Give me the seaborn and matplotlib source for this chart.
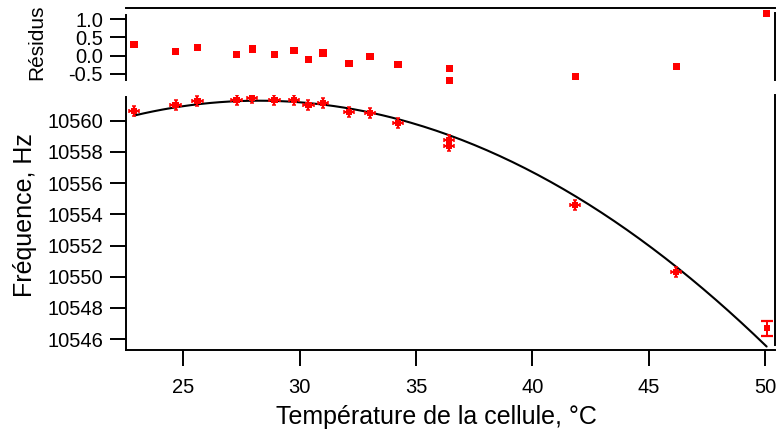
import numpy as np
import pandas as pd
import matplotlib
matplotlib.use('Agg')
import matplotlib.pyplot as plt
import seaborn as sns

sns.set_theme(style='ticks')
plt.rcParams['font.family'] = ['Liberation Sans', 'DejaVu Sans']
plt.rcParams['axes.unicode_minus'] = False
plt.rcParams['text.color'] = 'black'
plt.rcParams['axes.labelcolor'] = 'black'

# data
temp = [22.89, 24.67, 25.61, 27.29, 27.97, 28.92, 29.76, 30.38, 31.00,
        32.13, 33.02, 34.23, 36.43, 36.43, 41.85, 46.19, 50.07]
freq = [10560.64, 10561.00, 10561.26, 10561.31, 10561.46, 10561.31, 10561.35,
        10561.00, 10561.15, 10560.56, 10560.51, 10559.83, 10558.74, 10558.41,
        10554.60, 10550.32, 10546.69]
resid = [0.31, 0.12, 0.23, 0.04, 0.18, 0.04, 0.15, -0.10, 0.07, -0.21,
         -0.02, -0.24, -0.35, -0.68, -0.57, -0.29, 1.16]
temp_err = [0.22, 0.22, 0.22, 0.22, 0.22, 0.22, 0.22, 0.22, 0.22,
            0.22, 0.22, 0.22, 0.22, 0.22, 0.22, 0.22, 0.0]
freq_err = [0.32, 0.32, 0.32, 0.32, 0.32, 0.32, 0.32, 0.32, 0.32,
            0.32, 0.32, 0.32, 0.32, 0.32, 0.32, 0.32, 0.50]

res_ticks = [-0.5, 0.0, 0.5, 1.0]
res_ticklabels = ['-0.5', '0.0', '0.5', '1.0']
freq_ticks = [10546, 10548, 10550, 10552, 10554, 10556, 10558, 10560]
temp_ticks = [25, 30, 35, 40, 45, 50]

df = pd.DataFrame({'temp': temp, 'freq': freq, 'resid': resid,
                   'temp_err': temp_err, 'freq_err': freq_err})

# quadratic fit curve (fit = data - residual)
coef = np.polyfit(df['temp'], df['freq'] - df['resid'], 2)
tt = np.linspace(df['temp'].min(), df['temp'].max(), 200)
fit_df = pd.DataFrame({'temp': tt, 'freq': np.polyval(coef, tt)})

red = '#ff0000'
lw = 1.4
fs_tick = 14.5

fig = plt.figure(figsize=(7.76, 4.33), dpi=100)
ax_r = fig.add_axes([126/776, 353/433, 649/776, 72/433])
ax = fig.add_axes([126/776, 83/433, 649/776, 255/433])

xlim = (22.54, 50.43)

# residuals panel
sns.scatterplot(data=df, x='temp', y='resid', ax=ax_r, marker='s', s=28,
                color=red, edgecolor='none', linewidth=0, clip_on=False)
ax_r.set_xlim(*xlim)
ax_r.set_ylim(-0.668, 1.31)
ax_r.set_yticks(res_ticks)
ax_r.set_yticklabels(res_ticklabels)
ax_r.set_xticks([])
ax_r.set_xlabel('')
ax_r.set_ylabel('Résidus', fontsize=15)
ax_r.yaxis.set_label_coords(-0.123, 0.52)
ax_r.spines['bottom'].set_visible(False)
ax_r.spines['left'].set_bounds(-0.668, 1.118)
ax_r.spines['right'].set_bounds(-0.668, 1.173)

# main panel
sns.lineplot(data=fit_df, x='temp', y='freq', ax=ax, color='black', lw=1.5)
main = df.iloc[:-1]
last = df.iloc[-1:]
ax.errorbar(main['temp'], main['freq'], xerr=main['temp_err'], yerr=main['freq_err'],
            fmt='none', ecolor=red, elinewidth=1.6, capsize=1.3, capthick=1.1)
ax.errorbar(last['temp'], last['freq'], yerr=last['freq_err'],
            fmt='none', ecolor=red, elinewidth=1.4, capsize=4.5, capthick=1.6)
sns.scatterplot(data=df, x='temp', y='freq', ax=ax, marker='s', s=20,
                color=red, edgecolor='none', linewidth=0, zorder=3)
ax.set_xlim(*xlim)
ax.set_ylim(10545.30, 10561.65)
ax.set_yticks(freq_ticks)
ax.set_xticks(temp_ticks)
ax.set_xlabel('Température de la cellule, °C', fontsize=18)
ax.xaxis.set_label_coords(0.479, -0.215)
ax.set_ylabel('Fréquence, Hz', fontsize=18)
ax.yaxis.set_label_coords(-0.137, 0.531)
ax.spines['top'].set_visible(False)
ax.spines['left'].set_bounds(10545.30, 10561.52)
ax.spines['right'].set_bounds(10545.62, 10561.65)

for a in (ax, ax_r):
    for s in a.spines.values():
        s.set_linewidth(lw)
        s.set_color('black')
    a.tick_params(axis='both', direction='out', length=11.5, width=lw,
                  color='black', labelsize=fs_tick, labelcolor='black')
    a.tick_params(axis='y', pad=5)
    a.tick_params(axis='x', pad=9)
    a.grid(False)

fig.savefig('out.png', dpi=100)
